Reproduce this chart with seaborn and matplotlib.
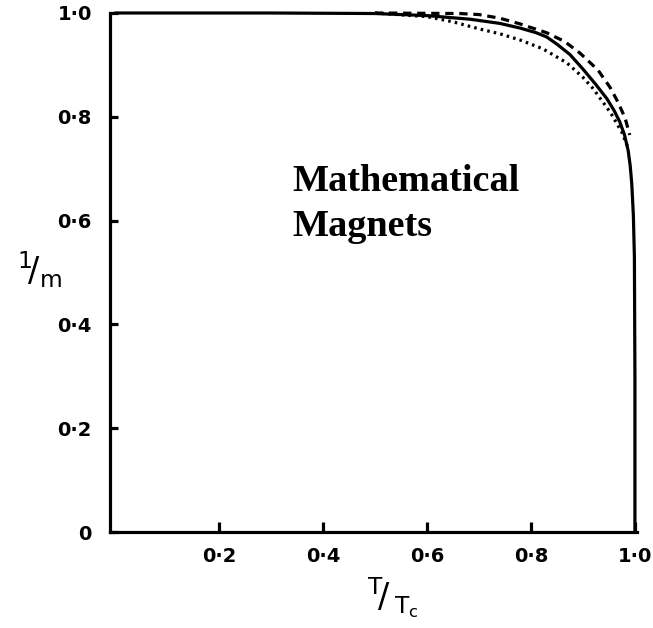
import numpy as np
import pandas as pd
import matplotlib
matplotlib.use("Agg")
import matplotlib.pyplot as plt
import seaborn as sns

# Spontaneous magnetisation versus reduced temperature
t_solid = [0.0, 0.3, 0.5, 0.6, 0.683, 0.74, 0.779, 0.81, 0.83, 0.85, 0.875, 0.9,
           0.925, 0.946, 0.96, 0.971, 0.98, 0.987, 0.991, 0.994, 0.997, 0.999, 1.0, 1.0]
m_solid = [1.0, 1.0, 0.999, 0.995, 0.988, 0.98, 0.971, 0.962, 0.954, 0.94, 0.92, 0.892,
           0.862, 0.835, 0.812, 0.79, 0.765, 0.735, 0.705, 0.67, 0.61, 0.53, 0.3, 0.0]

t_dashed = [0.5, 0.663, 0.7, 0.74, 0.779, 0.83, 0.865, 0.894, 0.929, 0.952, 0.967, 0.981, 0.99]
m_dashed = [1.0, 0.999, 0.997, 0.99, 0.979, 0.962, 0.945, 0.923, 0.89, 0.857, 0.829, 0.798, 0.765]

t_dotted = [0.5, 0.6, 0.65, 0.702, 0.74, 0.779, 0.823, 0.869, 0.9, 0.919, 0.946, 0.956, 0.975, 0.987]
m_dotted = [1.0, 0.993, 0.983, 0.969, 0.96, 0.948, 0.931, 0.904, 0.876, 0.855, 0.818, 0.803, 0.77, 0.74]

x_ticks = [0.2, 0.4, 0.6, 0.8, 1.0]
x_labels = ["0·2", "0·4", "0·6", "0·8", "1·0"]
y_ticks = [0.0, 0.2, 0.4, 0.6, 0.8, 1.0]
y_labels = ["0", "0·2", "0·4", "0·6", "0·8", "1·0"]

sns.set_style("white")
plt.rcParams["font.family"] = ["DejaVu Sans"]

W, H = 653, 628
fig = plt.figure(figsize=(W / 100, H / 100), dpi=100)
left_px, right_px, top_px, bottom_px = 110, 637, 13, 532
ax = fig.add_axes([left_px / W, 1 - bottom_px / H,
                   (right_px - left_px) / W, (bottom_px - top_px) / H])

lw = 2.3
curves = [
    (t_solid, m_solid, dict(color="black", lw=lw)),
    (t_dashed, m_dashed, dict(color="black", lw=lw, dashes=(2.6, 1.8))),
    (t_dotted, m_dotted, dict(color="black", lw=lw, dashes=(0.8, 1.3))),
]
for t, m, style in curves:
    df = pd.DataFrame({"T": t, "M": m})
    sns.lineplot(data=df, x="T", y="M", sort=False, estimator=None, ax=ax,
                 clip_on=False, **style)

ax.set_xlim(-0.0096, 1.004)
ax.set_ylim(0.0, 1.0)

for side in ("top", "right"):
    ax.spines[side].set_visible(False)
for side in ("left", "bottom"):
    ax.spines[side].set_linewidth(lw)
    ax.spines[side].set_color("black")

ax.set_xticks(x_ticks)
ax.set_xticklabels(x_labels)
ax.set_yticks(y_ticks)
ax.set_yticklabels(y_labels)
ax.tick_params(axis="both", direction="in", width=lw, colors="black",
               labelsize=14, bottom=True, left=True)
ax.tick_params(axis="x", length=7, pad=11)
ax.tick_params(axis="y", length=6, pad=13)
for lab in ax.get_xticklabels() + ax.get_yticklabels():
    lab.set_fontweight("bold")

ax.set_xlabel("")
ax.set_ylabel("")
fig.text(40 / W, 1 - 270 / H, r"$^{\mathsf{1}}\!/_{\mathsf{m}}$", fontsize=24,
         ha="center", va="center", color="black")
fig.text(393 / W, 1 - 598 / H, r"$^{\mathsf{T}}\!/\,_{\mathsf{T_c}}$", fontsize=24,
         ha="center", va="center", color="black")

fig.text(292 / W, 1 - 236 / H, "Mathematical\nMagnets",
         family="Liberation Serif", fontweight="bold", fontsize=27.5,
         ha="left", va="baseline", linespacing=1.37, color="black")

fig.savefig("out.png", dpi=100, facecolor="white")
